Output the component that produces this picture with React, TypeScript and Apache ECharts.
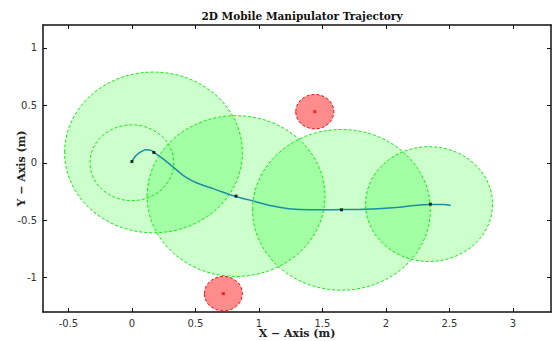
import React, { useEffect, useRef } from "react";
import * as echarts from "echarts";

const trajX = [0.0, 0.03, 0.07, 0.12, 0.15, 0.173, 0.25, 0.344, 0.43, 0.528, 0.65, 0.816, 0.945, 1.08, 1.236, 1.4, 1.656, 1.84, 2.076, 2.2, 2.339, 2.45, 2.51];
const trajY = [0.01, 0.06, 0.095, 0.113, 0.108, 0.09, 0.03, -0.055, -0.13, -0.183, -0.23, -0.294, -0.33, -0.37, -0.4, -0.41, -0.408, -0.405, -0.39, -0.375, -0.364, -0.363, -0.373];

const waypointX = [0.0, 0.173, 0.82, 1.65, 2.35];
const waypointY = [0.01, 0.09, -0.29, -0.41, -0.36];

const reachX = [0.17, 0.82, 1.65, 2.34];
const reachY = [0.09, -0.29, -0.41, -0.36];
const reachR = [0.7, 0.7, 0.7, 0.5];

const baseX = [0.0];
const baseY = [0.0];
const baseR = [0.33];

const obstacleX = [1.44, 0.72];
const obstacleY = [0.445, -1.14];
const obstacleR = [0.15, 0.15];

const xTicks = [-0.5, 0, 0.5, 1, 1.5, 2, 2.5, 3];
const yTicks = [-1, -0.5, 0, 0.5, 1];

function circleSeries(xs: number[], ys: number[], rs: number[], fill: string, stroke: string, z: number) {
  return {
    type: "custom",
    z,
    clip: false,
    silent: true,
    data: xs.map((x, i) => [x, ys[i], rs[i]]),
    renderItem: (_p: any, api: any) => {
      const c = api.coord([api.value(0), api.value(1)]);
      const s = api.size([api.value(2), api.value(2)]);
      return {
        type: "ellipse",
        shape: { cx: c[0], cy: c[1], rx: s[0], ry: s[1] },
        style: { fill, stroke, lineWidth: 1, lineDash: [3, 2] },
      };
    },
  };
}

export default function App() {
  const ref = useRef<HTMLDivElement>(null);
  useEffect(() => {
    const chart = echarts.init(ref.current!, null, { renderer: "svg" });
    const axisLabel = { color: "#333", fontFamily: "DejaVu Sans", fontSize: 10 };
    const nameStyle = { color: "#222", fontFamily: "DejaVu Serif", fontSize: 11, fontWeight: "bold" as const };
    chart.setOption({
      animation: false,
      backgroundColor: "#fff",
      title: {
        text: "2D Mobile Manipulator Trajectory",
        left: 297,
        textAlign: "center",
        top: 5,
        textStyle: { fontFamily: "DejaVu Serif", fontSize: 10.5, fontWeight: "bold", color: "#111" },
      },
      grid: { left: 43, right: 4, top: 25, bottom: 29, containLabel: false, outerBoundsMode: "none" },
      xAxis: [
        {
          type: "value", min: -0.7, max: 3.3, interval: 0.5,
          axisLine: { show: true, onZero: false, lineStyle: { color: "#111", width: 1.5 } },
          axisTick: { inside: true, length: 4, lineStyle: { color: "#111" }, customValues: xTicks },
          axisLabel: { ...axisLabel, margin: 6, customValues: xTicks },
          splitLine: { show: false },
          name: "X − Axis (m)", nameLocation: "middle", nameGap: 16, nameMoveOverlap: false, nameTextStyle: nameStyle,
        },
        {
          type: "value", position: "top", min: -0.7, max: 3.3, interval: 0.5,
          axisLine: { show: true, onZero: false, lineStyle: { color: "#111", width: 1.5 } },
          axisTick: { inside: true, length: 4, lineStyle: { color: "#111" }, customValues: xTicks },
          axisLabel: { show: false },
          splitLine: { show: false },
        },
      ],
      yAxis: [
        {
          type: "value", min: -1.3, max: 1.2, interval: 0.5,
          axisLine: { show: true, onZero: false, lineStyle: { color: "#111", width: 1.5 } },
          axisTick: { inside: true, length: 4, lineStyle: { color: "#111" }, customValues: yTicks },
          axisLabel: { ...axisLabel, margin: 6, customValues: yTicks },
          splitLine: { show: false },
          name: "Y − Axis (m)", nameLocation: "middle", nameGap: 16, nameMoveOverlap: false, nameTextStyle: nameStyle,
        },
        {
          type: "value", position: "right", min: -1.3, max: 1.2, interval: 0.5,
          axisLine: { show: true, onZero: false, lineStyle: { color: "#111", width: 1.5 } },
          axisTick: { inside: true, length: 4, lineStyle: { color: "#111" }, customValues: yTicks },
          axisLabel: { show: false },
          splitLine: { show: false },
        },
      ],
      series: [
        circleSeries(reachX, reachY, reachR, "rgba(0,255,0,0.2)", "#11ee11", 2),
        circleSeries(baseX, baseY, baseR, "none", "#11ee11", 3),
        circleSeries(obstacleX, obstacleY, obstacleR, "rgba(255,0,0,0.45)", "#ee1111", 3),
        {
          type: "line",
          z: 4,
          data: trajX.map((x, i) => [x, trajY[i]]),
          smooth: true,
          showSymbol: false,
          lineStyle: { color: "#1a8fa3", width: 1.5 },
          silent: true,
        },
        {
          type: "scatter",
          z: 5,
          data: waypointX.map((x, i) => [x, waypointY[i]]),
          symbol: "rect",
          symbolSize: 3,
          itemStyle: { color: "#000" },
          silent: true,
        },
        {
          type: "scatter",
          z: 5,
          data: obstacleX.map((x, i) => [x, obstacleY[i]]),
          symbol: "rect",
          symbolSize: 3,
          itemStyle: { color: "#ff0000" },
          silent: true,
        },
      ],
    });
    return () => chart.dispose();
  }, []);
  return <div ref={ref} style={{ width: 555, height: 341, position: "absolute", left: 0, top: 0 }} />;
}
